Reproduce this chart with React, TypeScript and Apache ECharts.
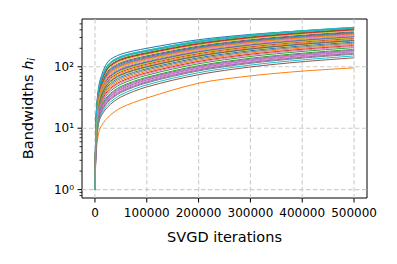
import React, { useEffect, useRef } from "react";
import * as echarts from "echarts";

const iterations = [0, 2000, 5000, 10000, 25000, 50000, 100000, 200000, 300000, 400000, 500000];

const bandwidthSeries: number[][] = [
  [1, 15, 34, 61, 121, 160, 200, 276, 336, 384, 425],
  [1, 3.5, 6.5, 10, 15, 21.5, 31, 54, 71, 85, 96],
  [1, 12.3, 30.7, 54.3, 107, 147, 184.4, 260.6, 328, 385.4, 438],
  [1, 11.1, 27.6, 48.5, 93.8, 128.8, 163.9, 234.1, 296.4, 349.5, 398],
  [1, 4.9, 11.4, 18.7, 30, 42.8, 61, 95, 125.7, 152.3, 176],
  [1, 3.9, 9, 14.6, 22.4, 32.2, 47, 74.5, 99.3, 120.8, 140],
  [1, 4.8, 11, 18, 28.7, 40.9, 58.6, 91.5, 121.2, 147, 170],
  [1, 11.9, 29.7, 52.6, 103.5, 141.6, 178.3, 252.4, 318, 373.9, 425],
  [1, 9.2, 22.4, 38.6, 71.2, 98.6, 129.3, 189.2, 242.6, 288.5, 330],
  [1, 4.2, 9.6, 15.7, 24.4, 35, 50.8, 80.1, 106.6, 129.5, 150],
  [1, 7.1, 16.7, 28.2, 48.6, 68.2, 92.9, 140.2, 182.5, 219.1, 252],
  [1, 6.5, 15.3, 25.6, 43.4, 61.1, 84.2, 128.1, 167.4, 201.5, 232],
  [1, 5.7, 13.4, 22.2, 36.7, 52, 72.8, 112, 147.2, 177.7, 205],
  [1, 8.1, 19.5, 33.2, 59.2, 82.4, 110.2, 163.7, 211.6, 252.8, 290],
  [1, 4.6, 10.6, 17.4, 27.6, 39.4, 56.6, 88.7, 117.5, 142.6, 165],
  [1, 8.5, 20.6, 35.2, 63.6, 88.4, 117.2, 173.2, 223.2, 266.2, 305],
  [1, 5, 11.7, 19.2, 30.9, 44, 62.6, 97.3, 128.6, 155.8, 180],
  [1, 9.9, 24.1, 41.7, 78.2, 108, 140.1, 203.5, 259.9, 308.1, 352],
  [1, 7.3, 17.4, 29.4, 51.3, 71.8, 97.4, 146.3, 190.2, 228, 262],
  [1, 12.3, 30.8, 54.6, 107.8, 147.4, 185.2, 261.8, 329.6, 387.2, 440],
  [1, 8.7, 21.1, 36.2, 65.6, 91.2, 120.6, 177.7, 228.6, 272.4, 312],
  [1, 7.8, 18.7, 31.8, 56.3, 78.6, 105.6, 157.5, 203.9, 243.9, 280],
  [1, 11.5, 28.5, 50.3, 98, 134.4, 170.2, 242.2, 305.9, 360.3, 410],
  [1, 6.2, 14.6, 24.3, 40.9, 57.7, 79.9, 122.1, 159.9, 192.7, 222],
  [1, 9.7, 23.5, 40.8, 75.9, 104.9, 136.7, 198.9, 254.4, 301.9, 345],
  [1, 10.4, 25.6, 44.6, 84.8, 116.8, 150.3, 216.7, 275.7, 326.1, 372],
  [1, 9, 21.7, 37.2, 68.1, 94.5, 124.4, 182.8, 234.8, 279.6, 320],
  [1, 6.8, 16, 26.9, 46, 64.6, 88.6, 134.1, 175, 210.3, 242],
  [1, 10.9, 26.8, 47, 90.3, 124.1, 158.6, 227.3, 288.4, 340.5, 388],
  [1, 7.6, 18, 30.5, 53.5, 74.8, 101, 151.3, 196.3, 235.1, 270],
  [1, 10.1, 24.8, 43.2, 81.5, 112.4, 145.2, 210.1, 267.7, 317.1, 362],
  [1, 9.5, 23, 39.8, 73.7, 102, 133.2, 194.4, 248.9, 295.6, 338],
  [1, 5.4, 12.5, 20.7, 33.6, 47.8, 67.4, 104.3, 137.5, 166.3, 192],
  [1, 11.3, 27.9, 49.1, 95.2, 130.6, 165.9, 236.7, 299.5, 353.1, 402],
  [1, 5.2, 12.1, 19.9, 32.3, 45.9, 65, 100.8, 133.1, 161, 186],
  [1, 7.5, 17.9, 30.2, 52.9, 74, 100.1, 150, 194.7, 233.3, 268],
  [1, 6, 14.1, 23.5, 39.1, 55.3, 77, 117.9, 154.7, 186.5, 215],
  [1, 4.5, 10.3, 16.9, 26.5, 38, 54.7, 85.8, 113.9, 138.3, 160],
  [1, 8.3, 20.1, 34.2, 61.5, 85.6, 113.9, 168.8, 217.8, 259.9, 298],
  [1, 12, 30, 53, 104.6, 143.1, 179.9, 254.5, 320.4, 376.6, 428],
];

const palette = ["#1f77b4", "#ff7f0e", "#2ca02c", "#d62728", "#9467bd", "#8c564b", "#e377c2", "#7f7f7f", "#bcbd22", "#17becf"];

const xTicks = [0, 100000, 200000, 300000, 400000, 500000];
const yMajorTicks = [1, 10, 100];
const yMinorTicks = [0.8, 0.9, 2, 3, 4, 5, 6, 7, 8, 9, 20, 30, 40, 50, 60, 70, 80, 90, 200, 300, 400, 500];
const supDigits: Record<string, string> = { "0": "⁰", "1": "¹", "2": "²" };

const X_MIN = -25000;
const X_MAX = 525000;
const Y_MIN = 0.73;
const Y_MAX = 600;
const FONT = "DejaVu Sans";

export default function App() {
  const ref = useRef<HTMLDivElement>(null);
  useEffect(() => {
    if (!ref.current) return;
    const chart = echarts.init(ref.current, null, { renderer: "svg" });
    const gridStyle = { stroke: "#cccccc", lineWidth: 1.1, lineDash: [4.5, 2.5] };
    const tickStyle = { stroke: "#000", lineWidth: 1 };
    const lineSeries = bandwidthSeries.map((vals, i) => ({
      type: "line",
      data: vals.map((v, j) => [iterations[j], v]),
      showSymbol: false,
      smooth: 0.3,
      lineStyle: { width: 1, color: palette[i % 10] },
      itemStyle: { color: palette[i % 10] },
      z: 3,
      silent: true,
    }));
    chart.setOption({
      animation: false,
      backgroundColor: "#fff",
      grid: { left: 82, right: 30, top: 19, bottom: 66, show: true, borderColor: "#000", borderWidth: 1, backgroundColor: "transparent" },
      xAxis: {
        type: "value",
        min: X_MIN,
        max: X_MAX,
        name: "SVGD iterations",
        nameLocation: "middle",
        nameGap: 31,
        nameTextStyle: { fontFamily: FONT, fontSize: 14.5, color: "#000" },
        axisLine: { show: false },
        axisTick: { show: false },
        splitLine: { show: false },
        axisLabel: {
          margin: 9,
          fontFamily: FONT,
          fontSize: 12,
          color: "#000",
          formatter: (v: number) => (xTicks.includes(v) ? String(v) : ""),
        },
      },
      yAxis: {
        type: "log",
        logBase: 10,
        min: Y_MIN,
        max: Y_MAX,
        name: "{a|Bandwidths }{b|h}{c|i}",
        nameLocation: "middle",
        nameGap: 46,
        nameRotate: 90,
        nameTextStyle: {
          fontFamily: FONT,
          fontSize: 14.5,
          color: "#000",
          rich: {
            a: { fontFamily: FONT, fontSize: 14.5, color: "#000" },
            b: { fontFamily: FONT, fontSize: 14.5, color: "#000", fontStyle: "italic" },
            c: { fontFamily: FONT, fontSize: 10, color: "#000", fontStyle: "italic", verticalAlign: "bottom", padding: [6, 0, 0, 0] },
          },
        },
        axisLine: { show: false },
        axisTick: { show: false },
        splitLine: { show: false },
        axisLabel: {
          margin: 8,
          fontFamily: FONT,
          fontSize: 12,
          color: "#000",
          formatter: (v: number) => {
            const e = Math.log10(v);
            const r = Math.round(e);
            if (Math.abs(e - r) > 1e-6 || !yMajorTicks.includes(Math.pow(10, r))) return "";
            return "10" + supDigits[String(r)];
          },
        },
      },
      series: [
        {
          type: "custom",
          silent: true,
          z: 1,
          data: xTicks.map((v) => [v, 1]),
          renderItem: (params: any, api: any) => {
            const x = api.coord([api.value(0), 1])[0];
            const cs = params.coordSys;
            return {
              type: "group",
              children: [
                { type: "line", shape: { x1: x, y1: cs.y, x2: x, y2: cs.y + cs.height }, style: gridStyle },
                { type: "line", shape: { x1: x, y1: cs.y + cs.height, x2: x, y2: cs.y + cs.height + 4.5 }, style: tickStyle },
              ],
            };
          },
        },
        {
          type: "custom",
          silent: true,
          z: 1,
          data: yMajorTicks.map((v) => [0, v]),
          renderItem: (params: any, api: any) => {
            const y = api.coord([0, api.value(1)])[1];
            const cs = params.coordSys;
            return {
              type: "group",
              children: [
                { type: "line", shape: { x1: cs.x, y1: y, x2: cs.x + cs.width, y2: y }, style: gridStyle },
                { type: "line", shape: { x1: cs.x - 4.5, y1: y, x2: cs.x, y2: y }, style: tickStyle },
              ],
            };
          },
        },
        {
          type: "custom",
          silent: true,
          z: 1,
          data: yMinorTicks.map((v) => [0, v]),
          renderItem: (params: any, api: any) => {
            const y = api.coord([0, api.value(1)])[1];
            const cs = params.coordSys;
            return { type: "line", shape: { x1: cs.x - 2.5, y1: y, x2: cs.x, y2: y }, style: { stroke: "#000", lineWidth: 0.8 } };
          },
        },
        ...lineSeries,
      ],
    });
    return () => chart.dispose();
  }, []);
  return <div ref={ref} style={{ position: "fixed", left: 0, top: 0, width: 397, height: 264, background: "#fff" }} />;
}
